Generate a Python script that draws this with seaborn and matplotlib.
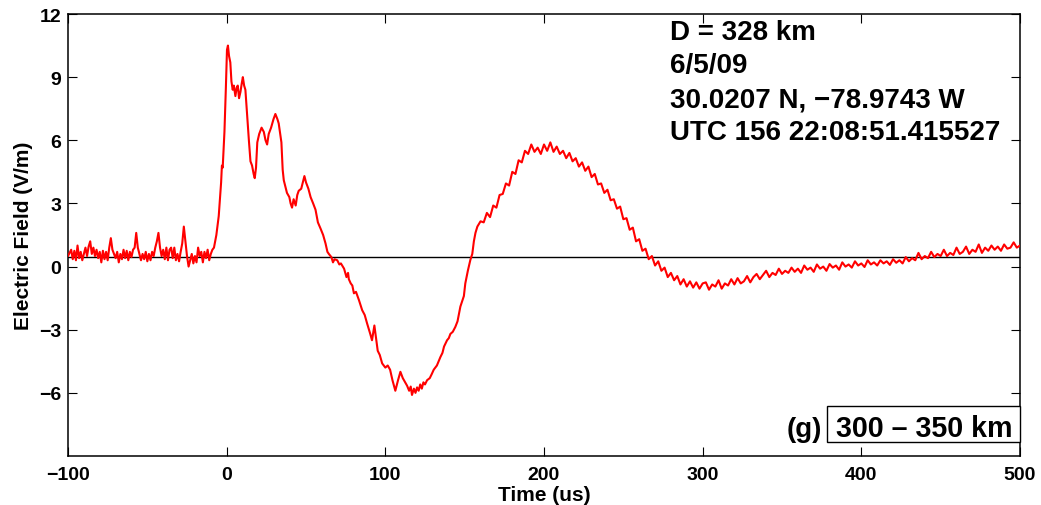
import matplotlib
matplotlib.use("Agg")
import matplotlib.pyplot as plt
import matplotlib.patches as mpatches
import seaborn as sns
import pandas as pd

# ---- data (time in us, field in V/m) ----
pretrigger = [(-100, 0.5), (-98, 0.8), (-97, 0.35), (-96, 0.75), (-95, 0.3), (-94, 1.0), (-93, 0.4),
              (-92, 0.7), (-91, 0.3), (-90, 0.6), (-89, 0.9), (-88, 0.5), (-87, 0.95), (-86, 1.2),
              (-85, 0.6), (-84, 0.9), (-83, 0.5), (-82, 0.8), (-81, 0.4), (-80, 0.7), (-79, 0.2),
              (-78, 0.75), (-77, 0.35), (-76, 0.7), (-75, 0.3), (-74, 0.9), (-73, 1.35), (-72, 0.8),
              (-71, 0.6), (-70, 0.4), (-69, 0.7), (-68, 0.2), (-67, 0.6), (-66, 0.35), (-65, 0.8),
              (-64, 0.4), (-63, 0.75), (-62, 0.3), (-61, 0.7), (-60, 0.45), (-59, 0.8), (-58, 0.9),
              (-57, 1.6), (-56, 0.9), (-55, 0.6), (-54, 0.3), (-53, 0.6), (-52, 0.35), (-51, 0.7),
              (-50, 0.25), (-49, 0.6), (-48, 0.3), (-47, 0.7), (-46, 0.5), (-45, 0.9), (-44, 1.2),
              (-43, 1.6), (-42, 0.9), (-41, 0.5), (-40, 0.8), (-39, 0.35), (-38, 0.9), (-37, 0.3),
              (-36, 0.8), (-35, 0.9), (-34, 0.4), (-33, 0.9), (-32, 0.3), (-31, 0.6), (-30, 0.25),
              (-29, 0.7), (-28, 1.1), (-27, 1.9), (-26, 1.2), (-25, 0.5), (-24, 0.0), (-23, 0.3),
              (-22, 0.6), (-21, 0.15), (-20, 0.5), (-19, 0.2), (-18, 0.9), (-17, 0.5), (-16, 0.7),
              (-15, 0.2), (-14, 0.7), (-13, 0.4), (-12, 0.8), (-11, 0.3), (-10, 0.6), (-9, 0.8)]

first_return = [(-8, 0.9), (-6.5, 1.5), (-5, 2.4), (-3.5, 4.0), (-3, 4.8), (-2.5, 4.7), (-1.4, 6.4),
                (-0.5, 8.5), (0.2, 10.3), (0.8, 10.5), (1.5, 10.0), (2.3, 9.7), (3, 8.8), (3.8, 8.4),
                (4.5, 8.6), (5.5, 8.1), (6.3, 8.5), (7, 8.6), (7.8, 8.0), (8.7, 8.3), (9.5, 8.7),
                (10.2, 9.0), (11, 8.6), (11.8, 8.4), (12.9, 7.2), (14, 6.0), (15, 5.0), (16, 4.8),
                (17, 4.4), (17.7, 4.2), (18.5, 4.7), (19.3, 5.9), (20.5, 6.3), (22, 6.6), (23.4, 6.4),
                (24.5, 6.0), (25.5, 5.8), (26.5, 6.3), (28, 6.6), (29.5, 7.0), (30.7, 7.25), (32, 7.0),
                (32.8, 6.8), (34.5, 5.9), (35.3, 4.6), (36, 4.1), (37, 3.8), (38, 3.5), (39.5, 3.3),
                (40.3, 3.0), (41.2, 2.8), (42.2, 3.2), (43.5, 2.9), (44.5, 3.4), (45.4, 3.6), (47, 3.7),
                (48, 4.0), (49, 4.3), (50, 4.0), (51.5, 3.7), (52.9, 3.3), (54.5, 3.0), (56, 2.7),
                (57.5, 2.1), (59.2, 1.8), (60.8, 1.5), (62.3, 1.1), (63.5, 0.7), (64.4, 0.6), (66, 0.45),
                (67, 0.2), (68, 0.35), (69.7, 0.3), (71, 0.1), (72, 0.15), (74, -0.1), (75.5, -0.5),
                (76.5, -0.3), (77, -0.6), (78.2, -0.8), (79.2, -0.9), (80.2, -1.27), (81.5, -1.2),
                (83.4, -1.6), (85.4, -2.07), (87, -2.3), (88.5, -2.7), (90.5, -3.2), (91.6, -3.5),
                (93.1, -2.8), (94, -3.3), (95.2, -4.0), (96.5, -4.2), (98, -4.6), (100, -4.8),
                (101.5, -4.7), (103, -4.9), (104.5, -5.4), (106.3, -5.9), (108, -5.4), (109.5, -5.0),
                (111, -5.3), (112.5, -5.5), (113.7, -5.66), (115, -5.9), (116, -5.7), (116.8, -6.1),
                (118, -5.8), (119, -6.0), (120, -5.74), (121, -5.9), (122, -5.6), (123, -5.8),
                (124, -5.5), (125, -5.6), (126.3, -5.4), (128, -5.3), (129.3, -5.1), (130.5, -4.9),
                (132.5, -4.7), (134.7, -4.3), (136, -4.1), (137, -3.8), (138.9, -3.5), (140, -3.4),
                (141, -3.2), (142.5, -3.1), (144.1, -2.87), (145.5, -2.6), (147.3, -1.9), (149.5, -1.4),
                (150.4, -0.8), (152, -0.2), (153.6, 0.32), (154.8, 0.6), (155.8, 1.2), (156.8, 1.6)]

hump = [(158, 1.9), (160, 2.15), (162, 2.1), (164, 2.55), (166, 2.35), (168, 2.9), (170, 2.8),
        (172, 3.4), (174, 3.45), (176, 3.95), (178, 3.85), (180, 4.5), (182, 4.4), (184, 5.05),
        (186, 4.95), (188, 5.5), (190, 5.35), (192, 5.8), (194, 5.45), (196, 5.65), (198, 5.35),
        (200, 5.8), (202, 5.5), (204, 5.9), (206, 5.45), (208, 5.7), (210, 5.35), (212, 5.5),
        (214, 5.15), (216, 5.4), (218, 5.0), (220, 5.15), (222, 4.75), (224, 4.95), (226, 4.55),
        (228, 4.75), (230, 4.25), (232, 4.4), (234, 3.9), (236, 3.95), (238, 3.5), (240, 3.65),
        (242, 3.15), (244, 3.2), (246, 2.75), (248, 2.85), (250, 2.25), (252, 2.3), (254, 1.75),
        (256, 1.85), (258, 1.2), (260, 1.3), (262, 0.75), (264, 0.85), (266, 0.35), (268, 0.5),
        (270, 0.05), (272, 0.25), (274, -0.2), (276, -0.05), (278, -0.5), (280, -0.3), (282, -0.65),
        (284, -0.45), (286, -0.85), (288, -0.6), (290, -0.95), (292, -0.7), (294, -1.0),
        (296, -0.75), (298, -1.05), (300, -0.8)]

tail = [(302, -0.75), (304, -1.1), (306, -0.85), (308, -0.95), (310, -0.65), (312, -1.05), (314, -0.8),
        (316, -0.9), (318, -0.6), (320, -0.85), (322, -0.55), (324, -0.8), (326, -0.7), (328, -0.45),
        (330, -0.75), (332, -0.5), (334, -0.35), (336, -0.6), (338, -0.4), (340, -0.2), (342, -0.5),
        (344, -0.3), (346, -0.4), (348, -0.1), (350, -0.35), (352, -0.2), (354, -0.3), (356, -0.05),
        (358, -0.25), (360, -0.1), (362, -0.3), (364, 0.05), (366, -0.15), (368, -0.05), (370, -0.25),
        (372, 0.1), (374, -0.1), (376, 0.0), (378, -0.2), (380, 0.12), (382, -0.05), (384, 0.05),
        (386, -0.15), (388, 0.2), (390, 0.0), (392, 0.1), (394, -0.05), (396, 0.25), (398, 0.05),
        (400, 0.15), (402, -0.02), (404, 0.3), (406, 0.1), (408, 0.2), (410, 0.05), (412, 0.3),
        (414, 0.15), (416, 0.25), (418, 0.08), (420, 0.35), (422, 0.18), (424, 0.3), (426, 0.15),
        (428, 0.45), (430, 0.25), (432, 0.4), (434, 0.3), (436, 0.65), (438, 0.35), (440, 0.5),
        (442, 0.4), (444, 0.7), (446, 0.45), (448, 0.6), (450, 0.5), (452, 0.8), (454, 0.5),
        (456, 0.65), (458, 0.55), (460, 0.9), (462, 0.6), (464, 0.7), (466, 0.95), (468, 0.6),
        (470, 0.8), (472, 0.7), (474, 1.05), (476, 0.65), (478, 0.9), (480, 0.75), (482, 1.0),
        (484, 0.8), (486, 0.95), (488, 0.75), (490, 1.05), (492, 0.85), (494, 0.9), (496, 1.15),
        (498, 0.9), (500, 1.0)]

reference_level = 0.45
x_ticks = [-100, 0, 100, 200, 300, 400, 500]
y_ticks = [-6, -3, 0, 3, 6, 9, 12]
info_lines = ["D = 328 km", "6/5/09", "30.0207 N, \u221278.9743 W", "UTC 156 22:08:51.415527"]
panel_tag = "(g)"
range_label = "300 \u2013 350 km"

# ---- build table ----
trace = pretrigger + first_return + hump + tail
df = pd.DataFrame(trace, columns=["time", "field"])

sns.set_theme(style="ticks")
plt.rcParams["font.family"] = ["Liberation Sans", "DejaVu Sans"]
plt.rcParams["font.weight"] = "bold"
plt.rcParams["text.color"] = "black"
plt.rcParams["axes.labelcolor"] = "black"
plt.rcParams["xtick.color"] = "black"
plt.rcParams["ytick.color"] = "black"

W, H = 1041, 506
fig = plt.figure(figsize=(W / 100, H / 100), dpi=100)
ax = fig.add_axes([68 / W, 1 - 457 / H, (1020 - 68) / W, (457 - 15) / H])

sns.lineplot(data=df, x="time", y="field", ax=ax, color="#ff0000", linewidth=1.5,
             estimator=None, sort=False, zorder=3)
ax.axhline(reference_level, color="black", linewidth=1.0, zorder=2)

ax.set_xlim(-100, 500)
ax.set_ylim(-9, 12)
ax.set_xticks(x_ticks)
ax.set_yticks(y_ticks)
ax.tick_params(direction="in", length=6.5, width=0.8, top=True, right=True,
               labelsize=14, colors="black")
ax.tick_params(axis="x", pad=7)
ax.tick_params(axis="y", pad=5)
for lab in ax.get_xticklabels() + ax.get_yticklabels():
    lab.set_fontweight("bold")
    lab.set_color("black")
for s in ax.spines.values():
    s.set_linewidth(1.1)
    s.set_color("black")
    s.set_visible(True)

ax.set_xlabel("Time (us)", fontsize=15, fontweight="bold", labelpad=2, color="black")
ax.set_ylabel("Electric Field (V/m)", fontsize=15, fontweight="bold", labelpad=4, color="black")

baselines = [40, 73, 107, 140]
for line, b in zip(info_lines, baselines):
    fig.text(670 / W, 1 - b / H, line, fontsize=20, fontweight="bold", color="black",
             ha="left", va="baseline")

fig.text(822 / W, 1 - 437 / H, panel_tag, fontsize=20, fontweight="bold", color="black",
         ha="right", va="baseline")
fig.patches.append(mpatches.Rectangle((827 / W, 1 - 443 / H), (1020 - 827) / W, (443 - 407) / H,
                                      transform=fig.transFigure, fill=True, fc="white",
                                      ec="black", lw=1.0, zorder=5))
fig.text(1013 / W, 1 - 437 / H, range_label, fontsize=20.6, fontweight="bold", color="black",
         ha="right", va="baseline", zorder=6)

fig.savefig("out.png", dpi=100)
